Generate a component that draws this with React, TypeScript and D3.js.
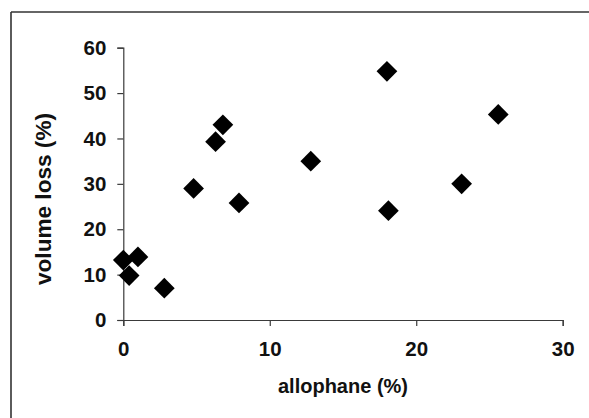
import * as d3 from "d3";
import { useEffect, useRef } from "react";

// allophane (%) vs volume loss (%)
const allophane = [0, 0.4, 1.0, 2.8, 4.8, 6.3, 6.8, 7.9, 12.8, 18.0, 18.1, 23.1, 25.6];
const volumeLoss = [13.2, 9.8, 13.9, 7.0, 29.0, 39.3, 43.0, 25.8, 35.0, 54.8, 24.1, 30.0, 45.3];
const xTicks = [0, 10, 20, 30];
const yTicks = [0, 10, 20, 30, 40, 50, 60];

const W = 589;
const H = 418;
const FONT = "'Liberation Sans', Arial, sans-serif";
const AXIS_COLOR = "#3a3a3a";

export default function App() {
  const xAxisRef = useRef<SVGGElement>(null);
  const yAxisRef = useRef<SVGGElement>(null);

  const x = d3.scaleLinear([0, 30], [123.3, 562.7]);
  const y = d3.scaleLinear([0, 60], [320, 47.7]);
  const diamond = d3.symbol(d3.symbolSquare, 215)();

  useEffect(() => {
    const xa = d3.axisBottom(x).tickValues(xTicks).tickSize(6).tickPadding(15);
    const ya = d3.axisLeft(y).tickValues(yTicks).tickSize(6).tickPadding(11);
    const gx = d3.select(xAxisRef.current).call(xa);
    const gy = d3.select(yAxisRef.current).call(ya);
    [gx, gy].forEach((g) => {
      g.selectAll("path, line").attr("stroke", AXIS_COLOR).attr("stroke-width", 1.2);
      g.selectAll("text")
        .attr("fill", "#111")
        .attr("font-size", 20.5)
        .attr("font-weight", "bold")
        .attr("font-family", FONT);
    });
  }, []);

  return (
    <div style={{ position: "fixed", left: 0, top: 0 }}>
      <svg width={W} height={H} style={{ display: "block", background: "#fff" }}>
        {/* frame: only top and left edges show */}
        <line x1={11} y1={12} x2={W} y2={12} stroke="#333" strokeWidth={1.6} />
        <line x1={11} y1={12} x2={11} y2={H} stroke="#333" strokeWidth={1.6} />

        <g ref={xAxisRef} transform={`translate(0,${y(0)})`} />
        <g ref={yAxisRef} transform={`translate(${x(0)},0)`} />

        {allophane.map((a, i) => (
          <path
            key={i}
            d={diamond ?? ""}
            transform={`translate(${x(a)},${y(volumeLoss[i])}) rotate(45)`}
            fill="#000"
          />
        ))}

        <text
          x={(x(0) + x(30)) / 2}
          y={393}
          textAnchor="middle"
          fontFamily={FONT}
          fontWeight="bold"
          fontSize={20}
          fill="#111"
        >
          allophane (%)
        </text>
        <text
          transform={`translate(51,199) rotate(-90)`}
          textAnchor="middle"
          fontFamily={FONT}
          fontWeight="bold"
          fontSize={22.5}
          fill="#111"
          textLength={172}
          lengthAdjust="spacingAndGlyphs"
        >
          volume loss (%)
        </text>
      </svg>
    </div>
  );
}
